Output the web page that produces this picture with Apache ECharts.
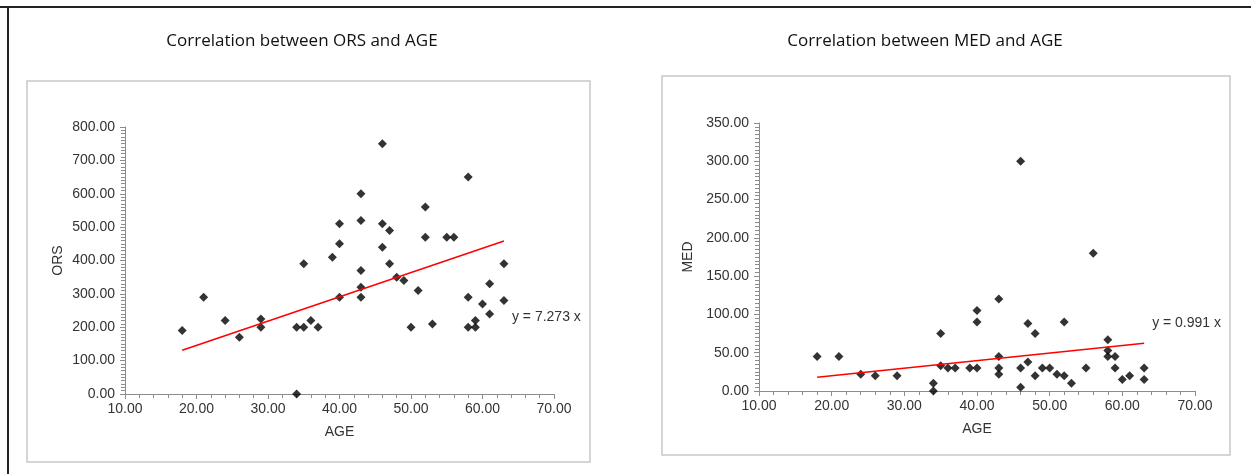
<!DOCTYPE html>
<html>
<head>
<meta charset="utf-8">
<script src="https://cdn.jsdelivr.net/npm/echarts@6/dist/echarts.min.js"></script>
<style>
html,body{margin:0;padding:0;background:#fff;}
#chart{width:1251px;height:474px;}
</style>
</head>
<body>
<div id="chart"></div>
<script>
// ---- data ----
const orsTitle = "Correlation between ORS and AGE";
const medTitle = "Correlation between MED and AGE";
const orsPoints = [
  [18,190],[21,290],[24,220],[26,170],[29,225],[29,200],[34,200],[34,0],[35,200],[35,390],
  [36,220],[37,200],[39,410],[40,510],[40,450],[40,290],[43,600],[43,520],[43,370],[43,320],
  [43,290],[46,750],[46,510],[46,440],[47,490],[47,390],[48,350],[49,340],[50,200],[51,310],
  [52,560],[52,470],[53,210],[55,470],[56,470],[58,650],[58,290],[58,200],[59,220],[59,200],
  [60,270],[61,330],[61,240],[63,390],[63,280]
];
const medPoints = [
  [18,45],[21,45],[24,22],[26,20],[29,20],[34,10],[34,0],[35,75],[35,33],[36,30],
  [37,30],[39,30],[40,105],[40,90],[40,30],[43,120],[43,45],[43,30],[43,22],[46,300],
  [46,30],[46,5],[47,88],[47,38],[48,75],[48,20],[49,30],[50,30],[51,22],[52,90],
  [52,20],[53,10],[55,30],[56,180],[58,67],[58,53],[58,45],[59,45],[59,30],[60,15],
  [61,20],[63,30],[63,15]
];
const orsTrend = [[18,130.9],[63,458.2]];   // y = 7.273 x
const medTrend = [[18,17.8],[63,62.4]];     // y = 0.991 x
const orsEquation = "y = 7.273 x";
const medEquation = "y = 0.991 x";
const xTicks = [10,20,30,40,50,60,70];
const orsYTicks = [0,100,200,300,400,500,600,700,800];
const medYTicks = [0,50,100,150,200,250,300,350];

// ---- chart ----
const chart = echarts.init(document.getElementById('chart'), null, {renderer:'canvas'});
const axisCol = '#8c8c8c';
const FONT = "'Liberation Sans', Arial, sans-serif";
const lblStyle = {color:'#333', fontFamily:FONT, fontSize:14};
function xAxis(gi){
  return {
    gridIndex: gi, type:'value', min: xTicks[0], max: xTicks[xTicks.length-1],
    interval: xTicks[1]-xTicks[0],
    name:'AGE', nameLocation:'middle', nameGap: 31,
    nameTextStyle:{color:'#333', fontFamily:FONT, fontSize:14},
    axisLine:{show:true, lineStyle:{color:axisCol, width:1}},
    axisTick:{show:true, inside:false, length:5, lineStyle:{color:axisCol}},
    minorTick:{show:true, splitNumber:5, length:4, lineStyle:{color:axisCol}},
    splitLine:{show:false},
    axisLabel:Object.assign({margin:8, formatter:v=>v.toFixed(2)}, lblStyle)
  };
}
function yAxis(gi, ticks, name, gap){
  return {
    gridIndex: gi, type:'value', min: ticks[0], max: ticks[ticks.length-1],
    interval: ticks[1]-ticks[0],
    name:name, nameLocation:'middle', nameGap: gap, nameRotate:90,
    nameTextStyle:{color:'#333', fontFamily:FONT, fontSize:14},
    axisLine:{show:true, lineStyle:{color:axisCol, width:1}},
    axisTick:{show:true, inside:false, length:5, lineStyle:{color:axisCol}},
    minorTick:{show:true, splitNumber:10, length:4, lineStyle:{color:axisCol}},
    splitLine:{show:false},
    axisLabel:Object.assign({margin:10, formatter:v=>v.toFixed(2)}, lblStyle)
  };
}
function trendSeries(gi, arr, text, offset){
  return {
    type:'line', xAxisIndex:gi, yAxisIndex:gi, data:arr,
    showSymbol:false, symbol:'none', lineStyle:{color:'#ff0000', width:1.5},
    endLabel:{show:true, formatter:text, offset:offset, distance:0,
      color:'#333', fontFamily:FONT, fontSize:14}
  };
}
const option = {
  animation:false,
  backgroundColor:'#fff',
  title:[
    {text:orsTitle, left:297, top:28, textAlign:'center',
      textStyle:{fontFamily:"'Open Sans', sans-serif", fontSize:17, fontWeight:'normal', color:'#111'}},
    {text:medTitle, left:920, top:28, textAlign:'center',
      textStyle:{fontFamily:"'Open Sans', sans-serif", fontSize:17, fontWeight:'normal', color:'#111'}}
  ],
  graphic:[
    {type:'line', shape:{x1:0,y1:7,x2:1251,y2:7}, style:{stroke:'#222', lineWidth:2}},
    {type:'line', shape:{x1:8,y1:7,x2:8,y2:474}, style:{stroke:'#222', lineWidth:2}},
    {type:'rect', shape:{x:27,y:81,width:563,height:381}, style:{fill:'none', stroke:'#c8c8c8', lineWidth:1.5}},
    {type:'rect', shape:{x:662,y:76,width:568,height:379}, style:{fill:'none', stroke:'#c8c8c8', lineWidth:1.5}}
  ],
  grid:[
    {left:125, top:127, width:429, height:267},
    {left:759, top:123, width:436, height:268}
  ],
  xAxis:[xAxis(0), xAxis(1)],
  yAxis:[yAxis(0, orsYTicks, 'ORS', 60), yAxis(1, medYTicks, 'MED', 64)],
  series:[
    {type:'scatter', xAxisIndex:0, yAxisIndex:0, data:orsPoints, symbol:'diamond', symbolSize:9,
      itemStyle:{color:'#000'}},
    trendSeries(0, orsTrend, orsEquation, [8,76]),
    {type:'scatter', xAxisIndex:1, yAxisIndex:1, data:medPoints, symbol:'diamond', symbolSize:9,
      itemStyle:{color:'#000'}},
    trendSeries(1, medTrend, medEquation, [8,-20])
  ]
};
chart.setOption(option);
</script>
</body>
</html>
